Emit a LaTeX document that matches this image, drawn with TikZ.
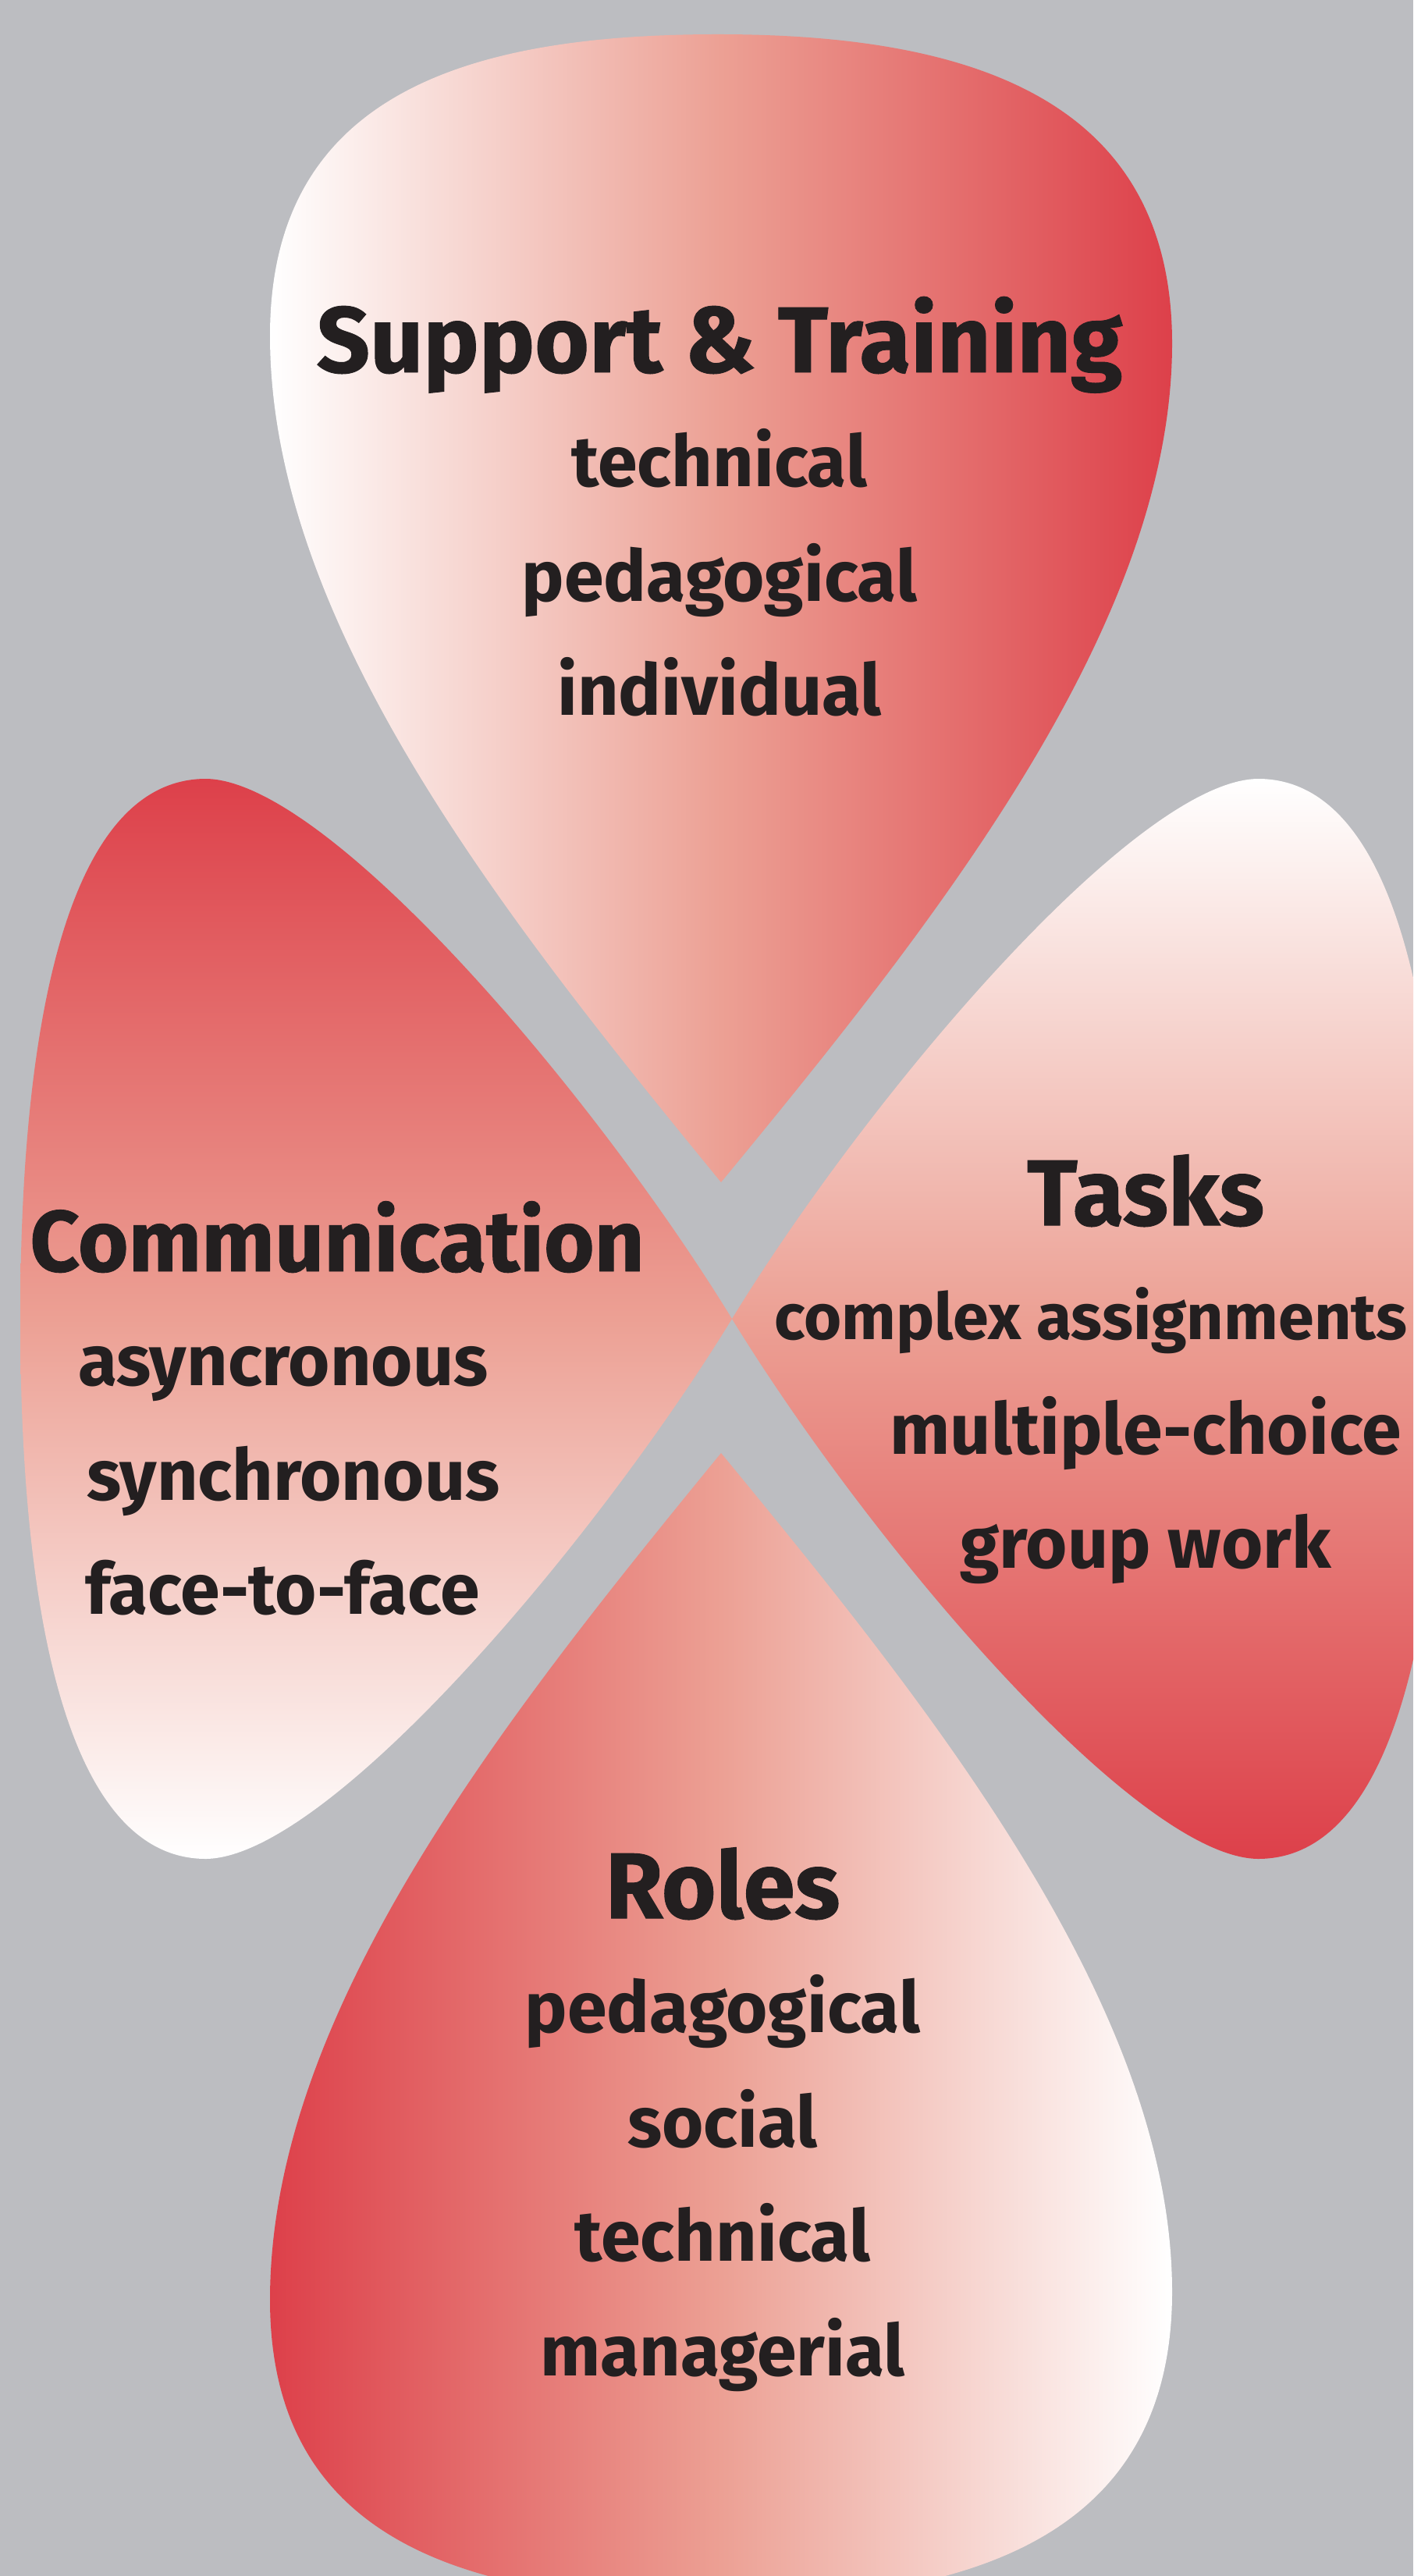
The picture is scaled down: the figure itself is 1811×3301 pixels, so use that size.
\documentclass[tikz,border=0pt]{standalone}
\usepackage{fontspec}
\setmainfont{Fira Sans}
\newfontfamily\headfont{Fira Sans}[BoldFeatures={FakeBold=0.8}]
\usetikzlibrary{positioning}

\definecolor{bggray}{RGB}{188,189,193}
\definecolor{petalred}{RGB}{221,64,74}
\definecolor{petalmid}{RGB}{236,160,148}
\definecolor{txtdark}{RGB}{35,31,32}

\begin{document}
\begin{tikzpicture}[x=0.01cm,y=-0.01cm,node distance=1.465cm,
            head/.style={font=\headfont\bfseries\fontsize{34}{38}\selectfont,text=txtdark,
                text height=0.6cm,text depth=0.2cm,inner sep=0pt},
            item/.style={font=\bfseries\fontsize{26}{30}\selectfont,text=txtdark,
                text height=0.6cm,text depth=0.2cm,inner sep=0pt}]

        % Background
        \fill[bggray] (0,0) rectangle (1811,3301);
        \useasboundingbox (0,0) rectangle (1811,3301);
        \clip (0,0) rectangle (1811,3301);

        % Draw petals
        \shade[left color=white,right color=petalred,middle color=petalmid]
            (924,1515) .. controls (650,1180) and (346,800) .. (346,430)
            .. controls (346,120) and (600,44) .. (920,44)
            .. controls (1250,44) and (1502,130) .. (1502,440)
            .. controls (1502,800) and (1200,1180) .. (924,1515) -- cycle;
        \shade[top color=petalred,bottom color=white,middle color=petalmid]
            (938,1690) .. controls (760,1400) and (420,1000) .. (264,998)
            .. controls (90,998) and (26,1300) .. (26,1690)
            .. controls (26,2080) and (90,2382) .. (264,2382)
            .. controls (420,2380) and (760,1980) .. (938,1690) -- cycle;
        \shade[top color=white,bottom color=petalred,middle color=petalmid]
            (938,1690) .. controls (1116,1400) and (1456,1000) .. (1612,998)
            .. controls (1786,998) and (1850,1300) .. (1850,1690)
            .. controls (1850,2080) and (1786,2382) .. (1612,2382)
            .. controls (1456,2380) and (1116,1980) .. (938,1690) -- cycle;
        \shade[left color=petalred,right color=white,middle color=petalmid]
            (924,1862) .. controls (650,2197) and (346,2577) .. (346,2947)
            .. controls (346,3257) and (600,3333) .. (920,3333)
            .. controls (1250,3333) and (1502,3247) .. (1502,2937)
            .. controls (1502,2577) and (1200,2197) .. (924,1862) -- cycle;

        % Support & Training
        \node[head] (st) at (922,457) {Support \& Training};
        \node[item] (st1) [below of=st] {technical};
        \node[item] (st2) [below of=st1] {pedagogical};
        \node[item] (st3) [below of=st2] {individual};

        % Communication
        \node[head, font=\headfont\bfseries\fontsize{31.5}{36}\selectfont] (com) at (432,1609) {Communication};
        \node[item] (com1) [below of=com, xshift=-0.69cm] {asyncronous};
        \node[item] (com2) [below of=com1, xshift=0.13cm] {synchronous};
        \node[item] (com3) [below of=com2, xshift=-0.14cm] {face-to-face};

        % Tasks
        \node[head] (tk) at (1468,1550) {Tasks};
        \node[item, font=\bfseries\fontsize{23.5}{28}\selectfont] (tk1) [below of=tk, xshift=-0.70cm] {complex assignments};
        \node[item] (tk2) [below of=tk1, xshift=0.70cm] {multiple-choice};
        \node[item] (tk3) [below of=tk2] {group work};

        % Roles
        \node[head] (ro) at (926,2438) {Roles};
        \node[item] (ro1) [below of=ro] {pedagogical};
        \node[item] (ro2) [below of=ro1] {social};
        \node[item] (ro3) [below of=ro2] {technical};
        \node[item] (ro4) [below of=ro3] {managerial};

\end{tikzpicture}
\end{document}
